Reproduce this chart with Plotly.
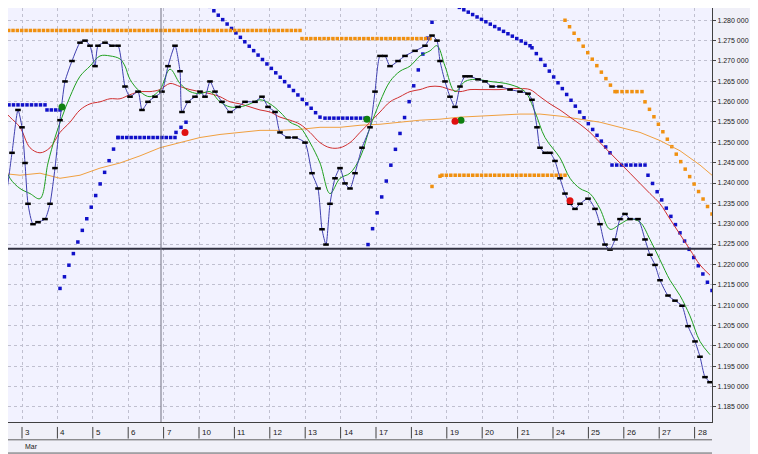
import plotly.graph_objects as go

################################################################################
# readings from the chart: x in trading-day slots (0 = 3 Mar), y in price

day_labels = ["3", "4", "5", "6", "7", "10", "11", "12", "13", "14",
              "17", "18", "19", "20", "21", "24", "25", "26", "27", "28"]

def _x(px_list):
    return [ (p - 22) / 35.4 for p in px_list ]

def _y(py_list):
    return [ round(1.280 - (p - 20) * 0.0002506, 5) for p in py_list ]

price_px = [0, 5, 12, 18, 22, 25, 28, 33, 38, 45, 50, 55, 60, 65, 72, 80, 85, 90, 95, 98, 105, 112, 118, 125, 130, 138, 142, 148, 155, 162, 168, 175, 180, 182, 188, 195, 200, 205, 210, 215, 222, 230, 238, 245, 255, 262, 268, 275, 280, 288, 295, 305, 312, 318, 322, 326, 330, 335, 340, 345, 350, 355, 362, 370, 375, 380, 385, 390, 398, 405, 415, 425, 432, 437, 440, 445, 450, 455, 460, 465, 470, 478, 485, 492, 500, 510, 520, 528, 532, 537, 540, 545, 550, 555, 560, 565, 570, 575, 580, 588, 595, 600, 605, 610, 615, 620, 625, 630, 638, 645, 650, 655, 660, 668, 675, 682, 688, 695, 700, 705, 710]
price_py = [170, 195, 150, 108, 125, 160, 200, 220, 218, 215, 200, 165, 118, 80, 60, 42, 40, 45, 65, 45, 42, 45, 45, 85, 95, 90, 108, 100, 95, 90, 65, 45, 70, 110, 100, 95, 90, 95, 80, 90, 100, 110, 105, 100, 100, 95, 105, 110, 130, 135, 135, 140, 170, 185, 225, 240, 200, 175, 165, 180, 185, 170, 145, 125, 90, 55, 55, 65, 60, 55, 50, 45, 35, 40, 60, 80, 95, 105, 85, 75, 75, 78, 80, 85, 85, 88, 90, 92, 98, 125, 145, 150, 150, 158, 175, 190, 200, 205, 200, 195, 205, 220, 240, 245, 235, 215, 210, 215, 215, 235, 250, 260, 275, 290, 295, 300, 320, 335, 350, 370, 375]

green_px = [0, 10, 20, 30, 40, 48, 55, 62, 70, 80, 90, 100, 110, 120, 125, 130, 140, 150, 160, 170, 180, 190, 200, 210, 220, 230, 240, 250, 260, 270, 280, 290, 300, 310, 320, 330, 340, 350, 360, 370, 380, 390, 400, 410, 420, 430, 437, 445, 455, 465, 475, 490, 510, 525, 535, 545, 560, 570, 580, 590, 600, 610, 620, 630, 640, 650, 660, 670, 680, 690, 700, 710]
green_py = [150, 175, 185, 190, 195, 160, 135, 115, 95, 75, 65, 55, 55, 58, 65, 78, 90, 95, 88, 68, 82, 90, 92, 90, 100, 105, 105, 102, 98, 102, 110, 120, 125, 140, 160, 190, 175, 170, 155, 125, 100, 80, 70, 65, 55, 50, 45, 65, 90, 80, 78, 80, 83, 90, 110, 135, 155, 175, 185, 190, 205, 225, 220, 215, 218, 235, 255, 275, 290, 310, 335, 348]

red_px = list(range(0, 720, 10))
red_py = [105, 115, 125, 145, 150, 145, 130, 120, 108, 102, 100, 97, 97, 93, 90, 90, 88, 82, 85, 88, 90, 92, 95, 100, 102, 105, 108, 110, 115, 118, 122, 130, 140, 145, 145, 140, 130, 120, 110, 100, 95, 90, 88, 85, 85, 88, 90, 88, 88, 88, 88, 87, 87, 88, 95, 102, 108, 115, 122, 130, 140, 150, 160, 170, 180, 190, 200, 215, 230, 245, 260, 270]

orange_px = [0, 20, 40, 60, 80, 100, 120, 140, 160, 180, 200, 220, 240, 260, 280, 300, 320, 340, 360, 380, 400, 420, 440, 460, 480, 500, 520, 540, 560, 580, 600, 620, 640, 660, 680, 700, 712]
orange_py = [170, 172, 170, 175, 172, 165, 160, 153, 145, 140, 135, 132, 130, 128, 128, 127, 125, 125, 123, 122, 120, 118, 117, 115, 114, 113, 112, 112, 114, 117, 120, 125, 130, 138, 148, 162, 172]

# stop-and-reverse dot runs (x start, y start, x end, y end) -- read as segments of dots
blue_runs = [(0, 103, 45, 103), (47, 108, 60, 108), (60, 283, 118, 135), (118, 135, 175, 135),
             (176, 130, 186, 120), (205, 2, 320, 115), (325, 116, 365, 116), (368, 240, 432, 22),
             (455, 5, 530, 45), (532, 47, 610, 150), (612, 162, 645, 162), (648, 172, 712, 285)]
orange_runs = [(0, 30, 300, 30), (302, 38, 430, 38), (432, 183, 440, 173), (442, 172, 565, 172),
               (565, 20, 615, 90), (617, 90, 642, 90), (645, 100, 712, 210)]

buy_px, buy_py = [62, 367, 461], [105, 117, 118]
sell_px, sell_py = [185, 455, 570], [130, 119, 197]

support_level = _y([244])[0]
marker_day = _x([161])[0]

################################################################################

def _dots(runs, step=4.3):
    xs, ys = [], []
    for x0, y0, x1, y1 in runs:
        n = max(int((x1 - x0) / step), 1)
        for i in range(n + 1):
            xs.append(x0 + (x1 - x0) * i / n)
            ys.append(y0 + (y1 - y0) * i / n)
    return _x(xs), _y(ys)

fig = go.Figure()

bx, by = _dots(blue_runs)
ox, oy = _dots(orange_runs)
fig.add_trace(go.Scatter(x=bx, y=by, mode="markers",
                         marker=dict(symbol="square", size=3.5, color="#1010c8")))
fig.add_trace(go.Scatter(x=ox, y=oy, mode="markers",
                         marker=dict(symbol="square", size=3.5, color="#f09010")))

fig.add_trace(go.Scatter(x=_x(orange_px), y=_y(orange_py), mode="lines",
                         line=dict(color="#f0a040", width=1)))
fig.add_trace(go.Scatter(x=_x(red_px), y=_y(red_py), mode="lines", line_shape="spline",
                         line=dict(color="#d03030", width=1)))
fig.add_trace(go.Scatter(x=_x(green_px), y=_y(green_py), mode="lines", line_shape="spline",
                         line=dict(color="#20a020", width=1)))
fig.add_trace(go.Scatter(x=_x(price_px), y=_y(price_py), mode="lines+markers",
                         line=dict(color="#4040b0", width=1, shape="spline", smoothing=0.6),
                         marker=dict(symbol="line-ew", size=4, color="black",
                                     line=dict(width=2.5, color="black"))))

fig.add_trace(go.Scatter(x=_x(buy_px), y=_y(buy_py), mode="markers",
                         marker=dict(symbol="circle", size=7, color="#108010")))
fig.add_trace(go.Scatter(x=_x(sell_px), y=_y(sell_py), mode="markers",
                         marker=dict(symbol="circle", size=7, color="#e01010")))

fig.add_hline(y=support_level, line=dict(color="#303040", width=2))
fig.add_vline(x=marker_day, line=dict(color="#707080", width=1))

ticks = [1.185 + 0.005 * i for i in range(21)]
tick_text = ["{:.3f} 000".format(t) for t in ticks]

# the page has an 8px body margin, so the figure begins at (8, 8)
x_lo, x_hi = _x([8])[0], _x([712])[0]
fig.update_layout(
    width=750, height=446,
    margin=dict(l=0, r=46, t=0, b=32),
    paper_bgcolor="#f0f0f8",
    plot_bgcolor="#f2f2ff",
    showlegend=False,
    xaxis=dict(range=[x_lo, x_hi], tickvals=list(range(len(day_labels))), ticktext=[""] * len(day_labels),
               showgrid=True, gridcolor="#c0c0d0", griddash="dot", zeroline=False,
               showline=True, linecolor="#404040", mirror=False, ticks=""),
    yaxis=dict(range=[_y([414])[0], _y([8])[0]], side="right", tickvals=ticks, ticktext=tick_text,
               showgrid=True, gridcolor="#c0c0d0", griddash="dot", zeroline=False,
               showline=True, linecolor="#404040", ticks="outside", ticklen=3,
               tickfont=dict(family="Liberation Sans", size=7, color="#202020")),
)

# date strip under the plot
for i, lab in enumerate(day_labels):
    fig.add_shape(type="line", xref="x", yref="paper", x0=i, x1=i, y0=-0.012, y1=-0.04,
                  line=dict(color="#404040", width=1))
    fig.add_annotation(x=i, y=-0.01, xref="x", yref="paper", text=lab, showarrow=False,
                       xanchor="left", yanchor="top", xshift=1,
                       font=dict(family="Liberation Sans", size=8, color="#202020"))
fig.add_annotation(x=0, y=-0.045, xref="x", yref="paper", text="Mar", showarrow=False,
                   xanchor="left", yanchor="top", xshift=1,
                   font=dict(family="Liberation Sans", size=7, color="#202020"))
fig.add_shape(type="line", xref="paper", yref="paper", x0=0, x1=1, y0=-0.043, y1=-0.043,
              line=dict(color="#606060", width=1))
fig.add_shape(type="line", xref="paper", yref="paper", x0=0, x1=1, y0=-0.075, y1=-0.075,
              line=dict(color="#606060", width=1))
# scrollbar
fig.add_shape(type="rect", xref="paper", yref="paper", x0=0.86, x1=0.98, y0=-0.08, y1=-0.075 - 0.03,
              fillcolor="#d0d0d8", line=dict(width=0))

fig.write_html("out.html")
